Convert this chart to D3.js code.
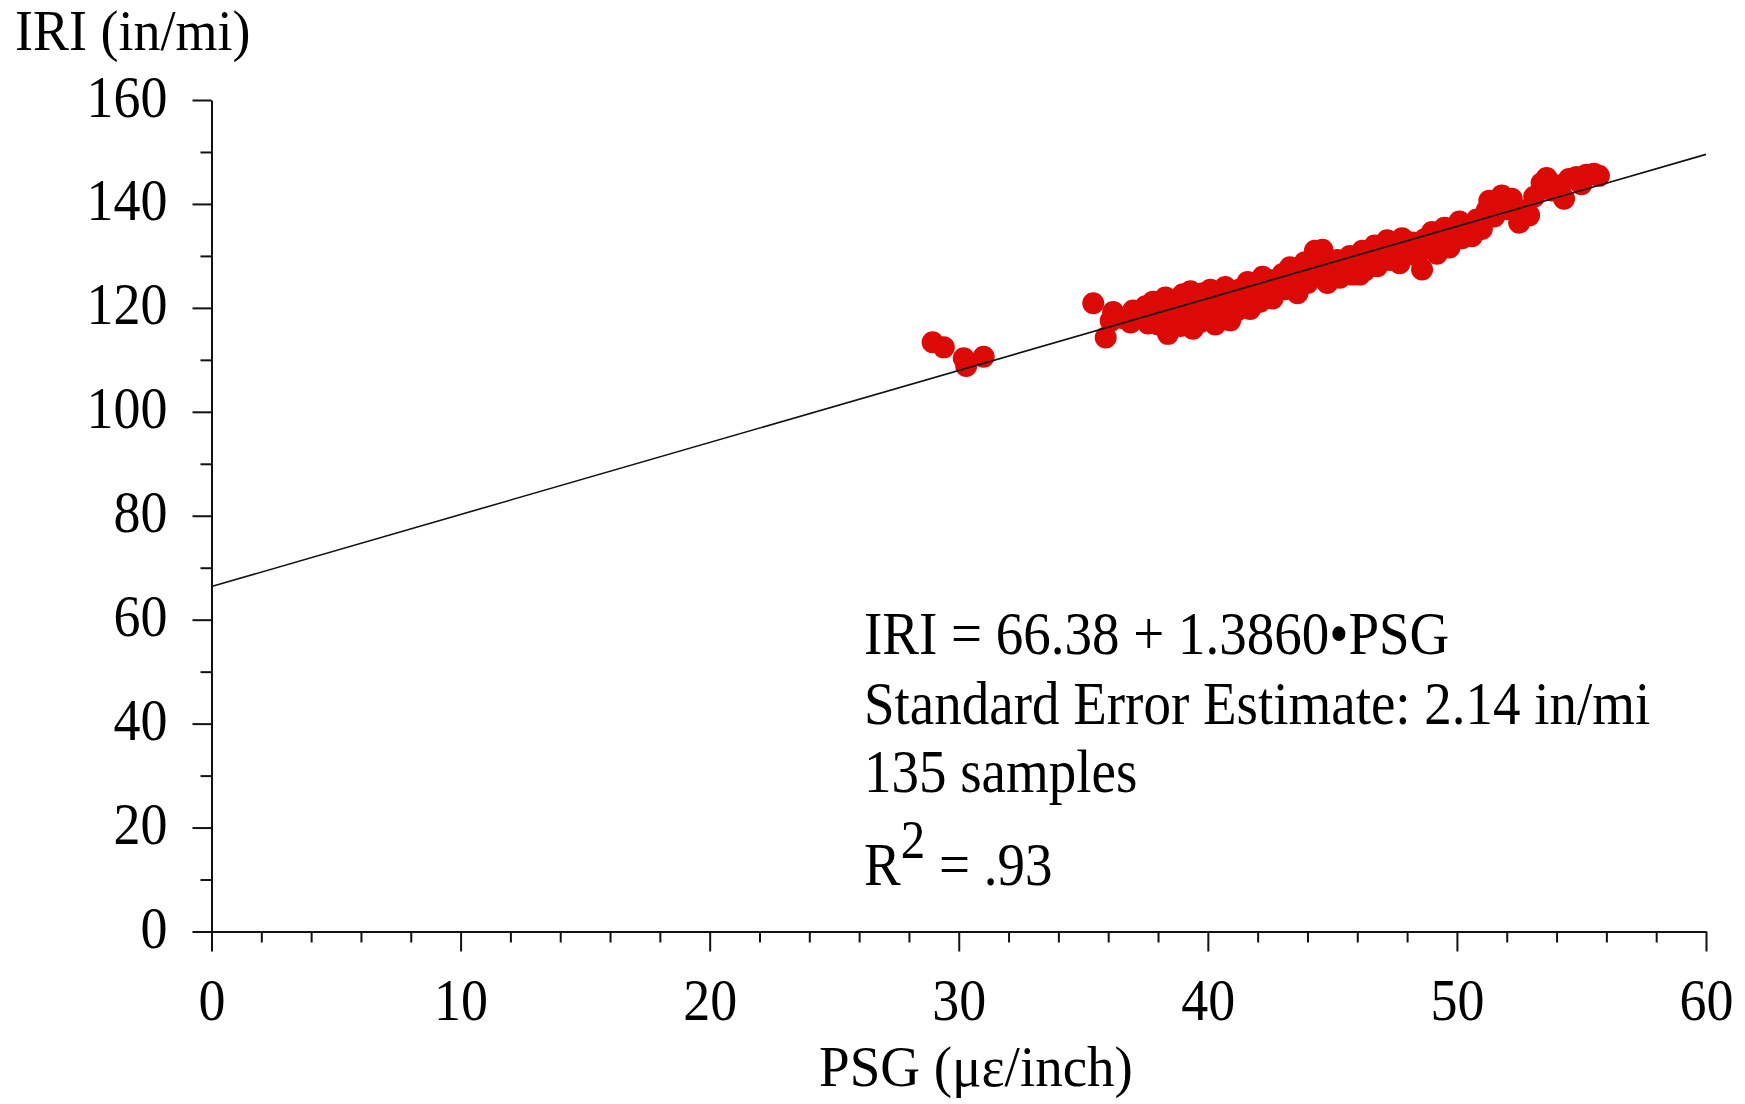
<!DOCTYPE html>
<html lang="en">
    <head>
        <meta charset="utf-8">
        <title>IRI vs PSG</title>
        <script type="text/javascript" src="https://d3js.org/d3.v7.min.js"></script>
        <style type="text/css">
            body { margin: 0; background: white; }
            text {
                font-family: "Liberation Serif", "Times New Roman", serif;
                fill: black;
            }
            .axis path, .axis line { stroke: #111; stroke-width: 2px; }
        </style>
    </head>

    <body>
    <script type="text/javascript">

        const width = 1745;
        const height = 1104;
        const fontSize = 54;
        const stretch = 1.1;   // the reference type is a little taller than wide

        // data
        const psg = [
            28.95, 29.4, 30.2, 30.3, 31.0,
            35.4, 35.9, 36.1, 36.2, 36.6, 36.9, 37.0, 37.3, 37.5, 37.6, 37.8, 37.9,
            38.0, 38.1, 38.2, 38.3, 38.4, 38.5, 38.6, 38.7, 38.8, 38.9,
            39.0, 39.1, 39.2, 39.3, 39.35, 39.4, 39.5, 39.6, 39.7, 39.8, 39.9,
            40.0, 40.1, 40.2, 40.3, 40.4, 40.5, 40.55, 40.6, 40.7, 40.8, 40.9,
            41.0, 41.2, 41.3, 41.4, 41.6, 41.7, 41.8,
            42.0, 42.1, 42.2, 42.4, 42.5, 42.6, 42.8,
            43.0, 43.1, 43.3, 43.5, 43.6, 43.8, 43.9,
            44.0, 44.1, 44.3, 44.5, 44.6, 44.7, 44.8,
            45.0, 45.2, 45.3, 45.5, 45.7, 45.8,
            46.0, 46.1, 46.2, 46.3, 46.5, 46.7, 46.8,
            47.0, 47.2, 47.3, 47.5, 47.7, 47.8,
            48.0, 48.2, 48.4, 48.6, 48.7, 48.9,
            49.0, 49.2, 49.4, 49.5, 49.7, 49.9,
            50.1, 50.2, 50.4, 50.6, 50.8,
            51.0, 51.2, 51.3, 51.5, 51.8,
            52.0, 52.2, 52.5, 52.7, 52.9,
            53.1, 53.4, 53.6, 53.8,
            54.0, 54.3, 54.5, 54.8,
            55.0, 55.2, 55.5, 55.7
        ];
        const iri = [
            113.4, 112.4, 110.3, 108.8, 110.6,
            120.9, 114.3, 117.5, 119.2, 118.0, 117.2, 119.5, 118.4, 120.3, 117.0, 121.2, 119.0,
            116.8, 118.3, 120.5, 122.0, 115.0, 117.8, 119.9, 121.6, 118.6, 116.5,
            122.6, 120.2, 118.0, 123.2, 119.4, 116.0, 121.0, 119.0, 117.3, 122.8, 120.3,
            118.4, 123.5, 121.5, 116.8, 119.7, 122.6, 120.3, 118.2, 124.0, 120.8, 117.6,
            122.0, 119.6, 123.6, 121.0, 125.0, 119.8, 122.8,
            124.2, 121.2, 126.0, 123.0, 125.3, 121.8, 124.6,
            126.5, 123.6, 127.8, 125.0, 122.8, 126.8, 128.8,
            124.8, 128.2, 131.0, 126.2, 131.2, 128.6, 124.8,
            127.0, 129.2, 125.8, 127.8, 130.0, 126.4,
            128.6, 126.4, 131.0, 127.2, 129.6, 132.0, 128.0,
            130.4, 133.0, 129.2, 131.6, 128.6, 133.4,
            131.0, 132.6, 130.0, 127.4, 133.2, 131.6,
            134.6, 130.4, 133.0, 135.4, 131.6, 134.2,
            136.6, 133.4, 135.6, 133.8, 137.0,
            135.2, 138.8, 140.6, 137.6, 141.6,
            139.0, 141.0, 136.4, 138.8, 137.8,
            141.4, 144.0, 145.0, 142.6,
            143.6, 141.0, 144.8, 145.2,
            143.8, 145.6, 145.8, 145.4
        ];

        // regression reported on the chart
        const fitIntercept = 66.38;
        const fitSlope = 1.3860;

        const xTicks = [0, 10, 20, 30, 40, 50, 60];
        const yTicks = [0, 20, 40, 60, 80, 100, 120, 140, 160];

        const notes = [
            "IRI = 66.38 + 1.3860\u2022PSG",
            "Standard Error Estimate: 2.14 in/mi",
            "135 samples"
        ];

        const xScale = d3.scaleLinear().domain([0, 60]).range([211.5, 1706]);
        const yScale = d3.scaleLinear().domain([0, 160]).range([931.5, 100]);

        const svg = d3.select("body")
                    .append("svg")
                    .attr("width", width)
                    .attr("height", height);

        svg.append("rect")
            .attr("width", width)
            .attr("height", height)
            .attr("fill", "white");

        // small helper for the slightly stretched serif text
        function label(x, y, str, anchor, size, sy) {
            return svg.append("text")
                .attr("transform", "translate(" + x + "," + y + ") scale(1," + (sy || stretch) + ")")
                .attr("font-size", (size || fontSize) + "px")
                .attr("text-anchor", anchor || "start")
                .text(str);
        }

        //minor ticks
        const xMinor = d3.range(0, 61, 2).filter(v => v % 10 !== 0);
        const yMinor = d3.range(10, 160, 20);

        svg.append("g")
            .attr("class", "axis")
            .attr("transform", "translate(0," + yScale(0) + ")")
            .call(d3.axisBottom(xScale).tickValues(xMinor).tickSize(11).tickSizeOuter(0).tickFormat(""))
            .call(g => g.select(".domain").remove());

        svg.append("g")
            .attr("class", "axis")
            .attr("transform", "translate(" + xScale(0) + ",0)")
            .call(d3.axisLeft(yScale).tickValues(yMinor).tickSize(11).tickSizeOuter(0).tickFormat(""))
            .call(g => g.select(".domain").remove());

        //bottom axis
        const gx = svg.append("g")
            .attr("class", "axis")
            .attr("transform", "translate(0," + yScale(0) + ")")
            .call(d3.axisBottom(xScale).tickValues(xTicks).tickSize(20).tickSizeOuter(0));

        gx.selectAll("text")
            .attr("y", null)
            .attr("dy", null)
            .attr("fill", "black")
            .attr("font-family", null)
            .attr("font-size", fontSize + "px")
            .attr("transform", "translate(0,88) scale(1," + stretch + ")");

        //left axis
        const gy = svg.append("g")
            .attr("class", "axis")
            .attr("transform", "translate(" + xScale(0) + ",0)")
            .call(d3.axisLeft(yScale).tickValues(yTicks).tickSize(19).tickSizeOuter(0));

        gy.selectAll("text")
            .attr("x", null)
            .attr("dy", null)
            .attr("fill", "black")
            .attr("font-family", null)
            .attr("font-size", fontSize + "px")
            .attr("transform", "translate(-44,16) scale(1," + stretch + ")");

        svg.selectAll(".axis .tick line").attr("stroke", "#111").attr("stroke-width", 2);
        svg.selectAll(".axis .domain").attr("stroke", "#111").attr("stroke-width", 2);

        // points
        svg.append("g")
            .selectAll("circle")
            .data(psg)
            .enter()
            .append("circle")
            .attr("cx", d => xScale(d))
            .attr("cy", (d, i) => yScale(iri[i]))
            .attr("r", 11)
            .attr("fill", "#dc0a06");

        // fitted line, drawn on top of the points
        const fitLine = d3.line()
            .x(d => xScale(d))
            .y(d => yScale(fitIntercept + fitSlope * d));

        svg.append("path")
            .datum(xScale.domain())
            .attr("d", fitLine)
            .attr("fill", "none")
            .attr("stroke", "#111")
            .attr("stroke-width", 1.6);

        // titles
        label(15, 50, "IRI (in/mi)", "start", 54, 1.04);
        label(976, 1086, "PSG (\u03bc\u03b5/inch)", "middle", 55, 1.03);

        // annotation
        const noteY = [654, 724, 792];
        notes.forEach((n, i) => label(864, noteY[i], n, "start", 55));

        const r2 = svg.append("text")
            .attr("transform", "translate(864,885) scale(1," + stretch + ")")
            .attr("font-size", "55px");
        r2.append("tspan").text("R");
        r2.append("tspan").attr("font-size", "49px").attr("dy", -25).text("2");
        r2.append("tspan").attr("dy", 25).text(" = .93");

    </script>
    </body>
</html>
